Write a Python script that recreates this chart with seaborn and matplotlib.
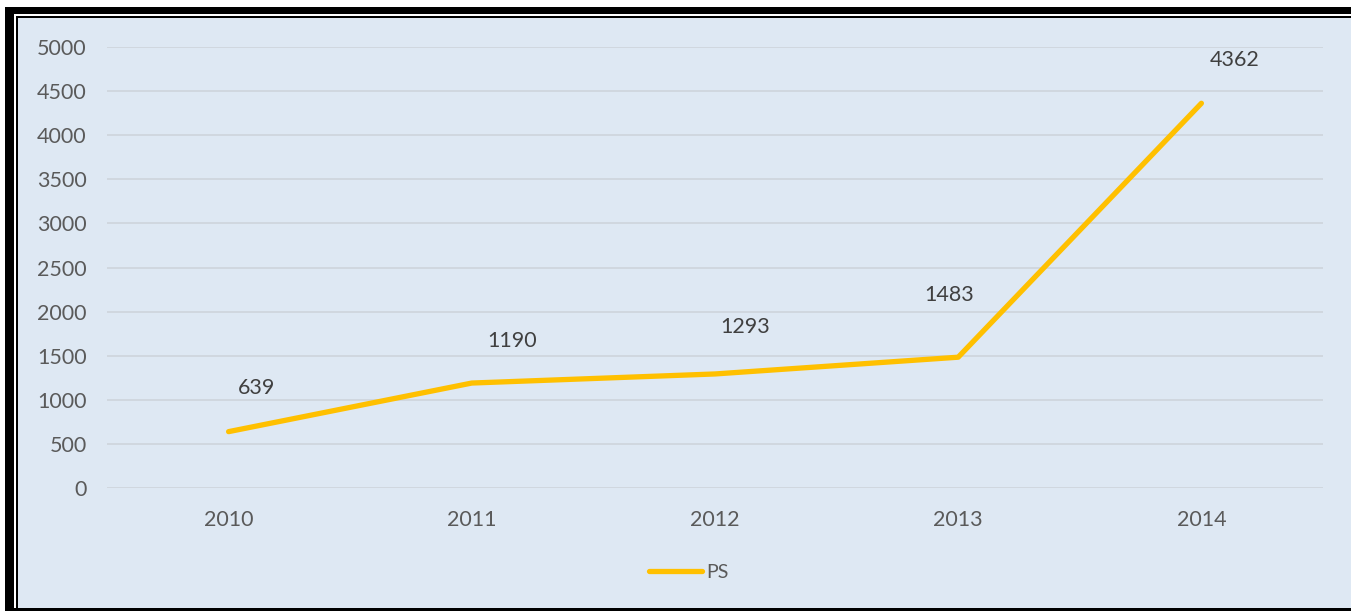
import matplotlib
matplotlib.use("Agg")
import matplotlib.pyplot as plt
from matplotlib.patches import Rectangle
import seaborn as sns
import pandas as pd

years = ["2010", "2011", "2012", "2013", "2014"]
ps_values = [639, 1190, 1293, 1483, 4362]
series_name = "PS"
y_ticks = [0, 500, 1000, 1500, 2000, 2500, 3000, 3500, 4000, 4500, 5000]

# hand-placed label offsets in pixels (dx, dy)
label_offsets = [(28, 44), (40, 42), (30, 47), (-9, 62), (33, 43)]

W, H = 1351, 611
BG = "#DEE8F3"
LINE = "#FFC000"
TICK_COLOR = "#5A5A5A"
LABEL_COLOR = "#404040"
GRID = "#CDD3DA"

sns.set_theme(style="white")
plt.rcParams["font.family"] = ["Lato", "DejaVu Sans"]

fig = plt.figure(figsize=(W / 100, H / 100), dpi=100, facecolor="white")


def px_rect(x0, y0, x1, y1, color, z):
    fig.add_artist(Rectangle((x0 / W, 1 - y1 / H), (x1 - x0) / W, (y1 - y0) / H,
                             transform=fig.transFigure, facecolor=color,
                             edgecolor="none", zorder=z))


# framed panel: thick black border, white gap, thin black line, blue panel
px_rect(5, 7, W + 5, H + 5, "black", -10)
px_rect(14, 14, W + 5, 608, "white", -9)
px_rect(16, 16, W + 5, 608, "black", -8)
px_rect(18, 18, W + 5, 608, BG, -7)

ax = fig.add_axes([107 / W, 1 - 488 / H, (1323 - 107) / W, (488 - 47) / H])
ax.set_facecolor("none")

df = pd.DataFrame({"Year": years, "Value": ps_values})
sns.lineplot(data=df, x="Year", y="Value", ax=ax, color=LINE, linewidth=3.8,
             label=series_name, sort=False, solid_capstyle="round")

ax.set_xlim(-0.5, len(years) - 0.5)
ax.set_ylim(0, 5000)
ax.set_yticks(y_ticks)
ax.set_yticklabels([str(t) for t in y_ticks])
ax.yaxis.grid(True, color=GRID, linewidth=1.1)
ax.set_axisbelow(True)
for s in ax.spines.values():
    s.set_visible(False)
ax.tick_params(axis="both", length=0, labelsize=15.5, colors=TICK_COLOR)
ax.tick_params(axis="y", pad=14.5)
ax.tick_params(axis="x", pad=16)
ax.set_xlabel("")
ax.set_ylabel("")

for i, (v, (dx, dy)) in enumerate(zip(ps_values, label_offsets)):
    ax.annotate(str(v), (i, v), xytext=(dx, dy), textcoords="offset pixels",
                ha="center", va="center", fontsize=15.5, color=LABEL_COLOR)

leg = ax.legend(loc="center", bbox_to_anchor=(689 / W, 1 - 572 / H),
                bbox_transform=fig.transFigure, frameon=False, fontsize=14,
                handlelength=2.7, handletextpad=0.25)
for line in leg.get_lines():
    line.set_solid_capstyle("round")
for t in leg.get_texts():
    t.set_color(TICK_COLOR)

fig.savefig("out.png", dpi=100, facecolor="white")
